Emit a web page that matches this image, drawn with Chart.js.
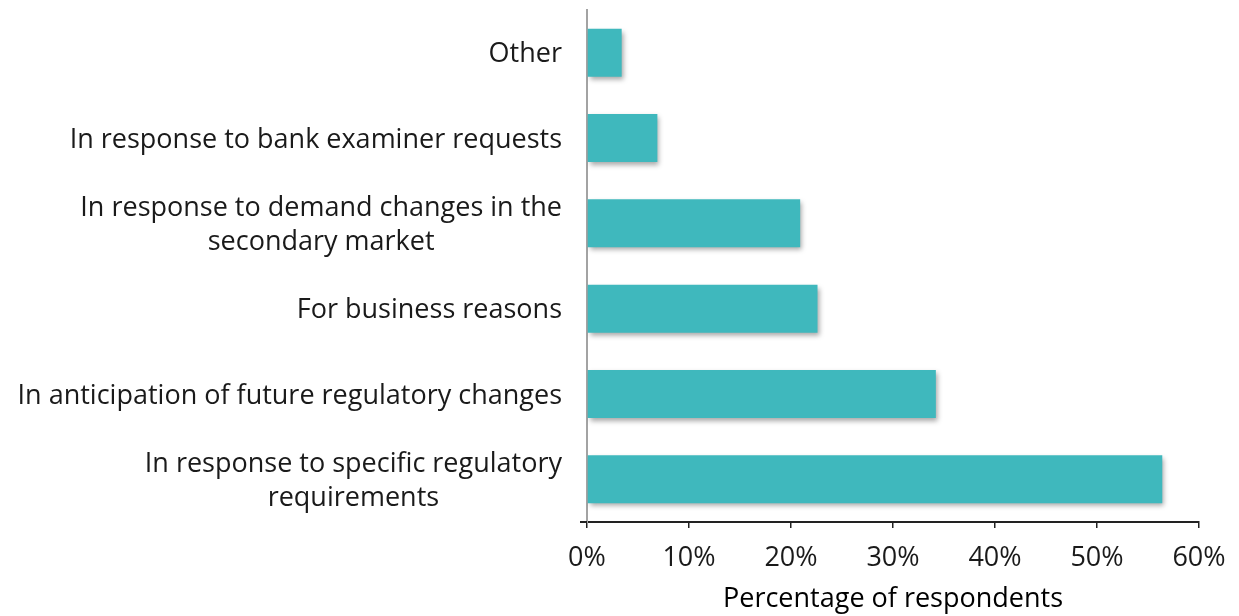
<!DOCTYPE html>
<html>
<head>
<meta charset="utf-8">
<script src="https://cdn.jsdelivr.net/npm/chart.js"></script>
<style>
  html, body { margin: 0; padding: 0; background: #fff; }
  #wrap { width: 1239px; height: 616px; }
</style>
</head>
<body>
<div id="wrap"><canvas id="c" width="1239" height="616"></canvas></div>
<script>
// reasons, top to bottom
var reasons = [
  'Other',
  'In response to bank examiner requests',
  ['In response to demand changes in the', 'secondary market'],
  'For business reasons',
  'In anticipation of future regulatory changes',
  ['In response to specific regulatory', 'requirements']
];
// share of respondents, %
var shares = [3.4, 6.9, 20.9, 22.6, 34.2, 56.4];
var xTicks = [0, 10, 20, 30, 40, 50, 60];
var xTitle = 'Percentage of respondents';

var FONT = '"Open Sans"';
var barColor = '#3fb8bd';

// soft drop shadow under the bars
var barShadow = {
  id: 'barShadow',
  beforeDatasetsDraw: function(chart){
    var ctx = chart.ctx;
    ctx.save();
    ctx.shadowColor = 'rgba(0,0,0,0.35)';
    ctx.shadowOffsetX = 2;
    ctx.shadowOffsetY = 3;
    ctx.shadowBlur = 5;
  },
  afterDatasetsDraw: function(chart){
    chart.ctx.restore();
  }
};

// category labels: block right-aligned to the axis, lines centred inside the block
var centredLabels = {
  id: 'centredLabels',
  afterDraw: function(chart){
    var ctx = chart.ctx;
    var sc = chart.scales.y;
    var right = sc.right - 25;
    var lh = 34;
    ctx.save();
    ctx.font = '27px ' + FONT;
    ctx.fillStyle = '#1a1a1a';
    ctx.textAlign = 'center';
    ctx.textBaseline = 'middle';
    reasons.forEach(function(lab, i){
      var lines = Array.isArray(lab) ? lab : [lab];
      var w = Math.max.apply(null, lines.map(function(s){ return ctx.measureText(s).width; }));
      var cx = right - w / 2;
      var y0 = sc.getPixelForTick(i) + 2 - (lines.length - 1) * lh / 2;
      lines.forEach(function(s, k){
        ctx.fillText(s, cx, y0 + k * lh);
      });
    });
    // bottom axis runs a little past the vertical axis
    var xs = chart.scales.x;
    ctx.strokeStyle = '#222';
    ctx.lineWidth = 2;
    ctx.beginPath();
    ctx.moveTo(xs.left - 7, xs.top);
    ctx.lineTo(xs.left, xs.top);
    ctx.stroke();
    ctx.restore();
  }
};

new Chart(document.getElementById('c'), {
  type: 'bar',
  data: {
    labels: reasons,
    datasets: [{
      data: shares,
      backgroundColor: barColor,
      borderWidth: 0,
      categoryPercentage: 0.5625,
      barPercentage: 1
    }]
  },
  options: {
    indexAxis: 'y',
    responsive: false,
    animation: false,
    layout: { padding: { top: 10, right: 40, left: 0, bottom: 0 } },
    plugins: { legend: { display: false }, tooltip: { enabled: false } },
    scales: {
      x: {
        min: 0, max: 60,
        afterBuildTicks: function(s){ s.ticks = xTicks.map(function(v){ return { value: v }; }); },
        afterFit: function(s){ s.height = 94; s.paddingLeft = 0; s.paddingRight = 0; },
        border: { display: true, color: '#222', width: 2 },
        grid: { drawOnChartArea: false, drawTicks: true, tickLength: 6, color: '#222', lineWidth: 1.5 },
        ticks: {
          color: '#1a1a1a',
          font: { family: FONT, size: 27 },
          padding: 14,
          callback: function(v){ return v + '%'; }
        },
        title: {
          display: true,
          text: xTitle,
          color: '#000',
          font: { family: FONT, size: 27 },
          padding: { top: 0, bottom: 0 }
        }
      },
      y: {
        afterFit: function(s){ s.width = 587; s.paddingTop = 0; s.paddingBottom = 0; },
        border: { display: true, color: '#a3a3a3', width: 2 },
        grid: { display: false },
        ticks: {
          color: 'rgba(0,0,0,0)',
          font: { family: FONT, size: 26, lineHeight: 1.3 },
          padding: 25
        }
      }
    }
  },
  plugins: [barShadow, centredLabels]
});
</script>
</body>
</html>
